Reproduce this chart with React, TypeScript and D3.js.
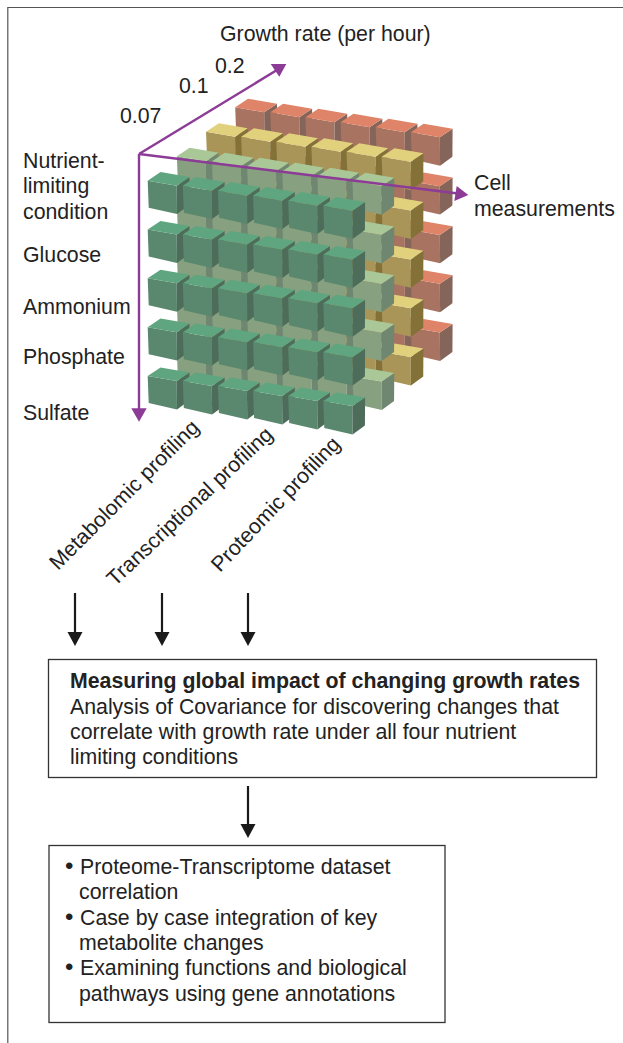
import React from "react";
import * as d3 from "d3";

const W = 623, H = 1043;
const conditions = ["Glucose", "Ammonium", "Phosphate", "Sulfate"];
const growthRates = ["0.07", "0.1", "0.2"];
const profiling = ["Metabolomic profiling", "Transcriptional profiling", "Proteomic profiling"];
const measurements = [0, 1, 2, 3, 4, 5];
const rows = [0, 1, 2, 3, 4];
const layers = [3, 2, 1, 0];
const layerTop = ["#5FA57F", "#A9C797", "#E2D17C", "#DF8468"];
const layerFront = ["#5A886E", "#87A07F", "#AA9558", "#A87360"];
const layerSide = ["#4D6D5A", "#6F8670", "#837138", "#85655A"];
const boxTitle = "Measuring global impact of changing growth rates";
const boxLines = [
  "Analysis of Covariance for discovering changes that",
  "correlate with growth rate under all four nutrient",
  "limiting conditions",
];
const bulletLines = [
  ["•", "Proteome-Transcriptome dataset"],
  ["", "correlation"],
  ["•", "Case by case integration of key"],
  ["", "metabolite changes"],
  ["•", "Examining functions and biological"],
  ["", "pathways using gene annotations"],
];

const colX = d3.scaleLinear().domain([0, 5]).range([0, 175.6]);
const colY = d3.scaleLinear().domain([0, 5]).range([0, 25]);
const rowY = d3.scaleLinear().domain([0, 4]).range([180.7, 376]);
const layerX = d3.scaleLinear().domain([0, 3]).range([147.7, 235.2]);
const layerY = d3.scaleLinear().domain([0, 3]).range([0, -73.4]);

const poly = (pts: number[][]) => pts.map((p) => p.join(",")).join(" ");

function Cube({ l, r, c }: { l: number; r: number; c: number }) {
  const x = layerX(l) + colX(c);
  const y = rowY(r) + layerY(l) + colY(c);
  const w = [29, 5], d = [12.8, -8.6], h = [1, 28.4];
  const A = [x, y];
  const B = [x + w[0], y + w[1]];
  const C = [B[0] + d[0], B[1] + d[1]];
  const D = [x + d[0], y + d[1]];
  const E = [A[0] + h[0], A[1] + h[1] - 1.4];
  const F = [B[0] + h[0] * 0.3, B[1] + h[1]];
  const G = [C[0] - 0.2, C[1] + h[1] - 0.4];
  return (
    <g>
      <polygon points={poly([A, B, F, E])} fill={layerFront[l]} />
      <polygon points={poly([B, C, G, F])} fill={layerSide[l]} />
      <polygon points={poly([A, D, C, B])} fill={layerTop[l]} />
    </g>
  );
}

const purple = "#8C3B96";
const ink = "#222";
const font = "'Liberation Sans', Arial, sans-serif";

function BlackArrow({ x, y1, y2 }: { x: number; y1: number; y2: number }) {
  return (
    <g>
      <line x1={x} x2={x} y1={y1} y2={y2 - 10} stroke="#1a1a1a" strokeWidth={2.2} />
      <polygon points={poly([[x - 7.5, y2 - 14], [x + 7.5, y2 - 14], [x, y2]])} fill="#1a1a1a" />
    </g>
  );
}

export default function App() {
  const cubes: React.ReactNode[] = [];
  layers.forEach((l) =>
    rows.forEach((r) =>
      measurements.forEach((c) => cubes.push(<Cube key={`${l}-${r}-${c}`} l={l} r={r} c={c} />))
    )
  );
  const growthPos = [[120, 123], [179, 93], [215, 73]];
  const condY = [262, 314, 364, 420];
  const profPos = [[58, 571], [115, 587], [220, 573]];
  const profAngle = [-45, -43.5, -46.5];
  return (
    <svg
      width={W}
      height={H}
      viewBox={`0 0 ${W} ${H}`}
      style={{ position: "absolute", left: 0, top: 0, background: "#fff" }}
      fontFamily={font}
      fontSize={21.3}
      fill={ink}
    >
      <path d={`M${W},7.5 H7.8 V${H}`} fill="none" stroke="#555" strokeWidth={1.2} />
      {cubes}
      <text x={220} y={41}>Growth rate (per hour)</text>
      {growthRates.map((g, i) => (
        <text key={g} x={growthPos[i][0]} y={growthPos[i][1]}>{g}</text>
      ))}
      <text x={23} y={168}>Nutrient-</text>
      <text x={23} y={193}>limiting</text>
      <text x={23} y={219}>condition</text>
      {conditions.map((c, i) => (
        <text key={c} x={23} y={condY[i]}>{c}</text>
      ))}
      <text x={474} y={190}>Cell</text>
      <text x={474} y={216}>measurements</text>
      {profiling.map((p, i) => (
        <text key={p} transform={`translate(${profPos[i][0]},${profPos[i][1]}) rotate(${profAngle[i]})`}>{p}</text>
      ))}
      <g stroke={purple} strokeWidth={2.4} fill="none">
        <line x1={139} y1={154} x2={277} y2={70} />
        <line x1={139} y1={154} x2={458} y2={193.5} />
        <line x1={139} y1={154} x2={139} y2={410} />
      </g>
      <g fill={purple}>
        <polygon points={poly([[286.3, 64], [270.7, 64], [279.3, 76.7]])} />
        <polygon points={poly([[468.3, 195], [456.7, 186], [454.3, 201]])} />
        <polygon points={poly([[139, 421.7], [131.3, 408.3], [146.7, 408.3]])} />
      </g>
      <BlackArrow x={75} y1={593} y2={646} />
      <BlackArrow x={162} y1={593} y2={646} />
      <BlackArrow x={248} y1={593} y2={646} />
      <rect x={48.5} y={659.5} width={548} height={118} fill="#fff" stroke="#333" strokeWidth={1.3} />
      <text x={70} y={688} fontWeight="bold">{boxTitle}</text>
      {boxLines.map((t, i) => (
        <text key={t} x={70} y={714 + i * 25}>{t}</text>
      ))}
      <BlackArrow x={248} y1={786} y2={838} />
      <rect x={49} y={845.5} width={396} height={177} fill="#fff" stroke="#333" strokeWidth={1.3} />
      {bulletLines.map(([b, t], i) => (
        <g key={t}>
          {b && <text x={65} y={874 + i * 25.3} fontSize={24}>{b}</text>}
          <text x={b ? 80 : 79} y={874 + i * 25.3}>{t}</text>
        </g>
      ))}
    </svg>
  );
}
